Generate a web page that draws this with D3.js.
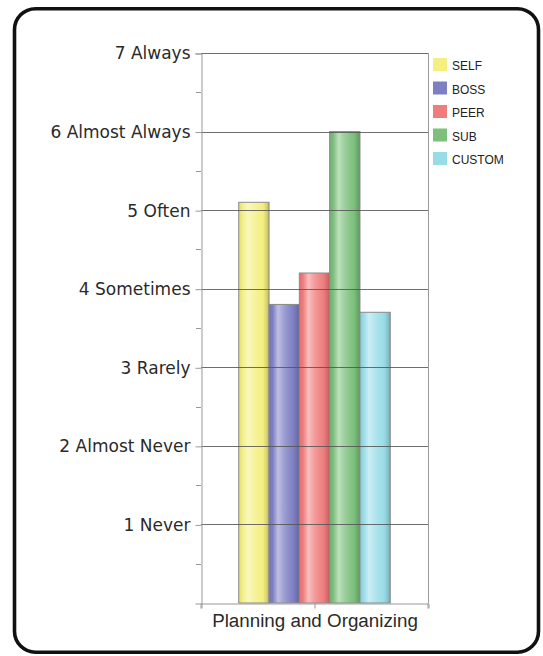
<!DOCTYPE html>
<html>
<head>
<meta charset="utf-8">
<script src="https://cdn.jsdelivr.net/npm/d3@7/dist/d3.min.js"></script>
<style>
  html, body { margin: 0; padding: 0; background: #fff; }
  svg { display: block; }
</style>
</head>
<body>
<svg id="chart" width="543" height="656"></svg>
<script>
// Rating scale labels (value -> text)
const scaleValues = [1, 2, 3, 4, 5, 6, 7];
const scaleLabels = ["1 Never", "2 Almost Never", "3 Rarely", "4 Sometimes", "5 Often", "6 Almost Always", "7 Always"];
const minorTicks = [0.5, 1.5, 2.5, 3.5, 4.5, 5.5, 6.5];

// Competency and rater groups
const categories = ["Planning and Organizing"];
const series = ["SELF", "BOSS", "PEER", "SUB", "CUSTOM"];
const seriesValues = [5.1, 3.8, 4.2, 6.0, 3.7];
const seriesColors = ["#f4ef80", "#7f7fc4", "#f07c7c", "#7cc07c", "#98dce8"];

const svg = d3.select("#chart");

// Rounded frame
svg.append("rect")
  .attr("x", 14.5).attr("y", 8.7)
  .attr("width", 524).attr("height", 643.5)
  .attr("rx", 21).attr("ry", 21)
  .attr("fill", "#fff")
  .attr("stroke", "#111")
  .attr("stroke-width", 3.6);

const plot = { left: 201, right: 428, top: 53, bottom: 603 };

const y = d3.scaleLinear().domain([0, 7]).range([plot.bottom, plot.top]);
const x0 = d3.scaleBand().domain(categories).range([plot.left, plot.right]).paddingOuter(0.249).paddingInner(0);
const x1 = d3.scaleBand().domain(series).range([0, x0.bandwidth()]);

// Cylinder-style shading for each bar colour
const defs = svg.append("defs");
series.forEach((s, i) => {
  const base = d3.color(seriesColors[i]);
  const g = defs.append("linearGradient")
    .attr("id", "grad-" + i)
    .attr("x1", "0%").attr("x2", "100%").attr("y1", "0%").attr("y2", "0%");
  const stops = [
    [0, base.darker(0.25)],
    [0.12, base],
    [0.3, d3.interpolateRgb(base, "#fff")(0.5)],
    [0.45, d3.interpolateRgb(base, "#fff")(0.3)],
    [0.6, d3.interpolateRgb(base, "#fff")(0.15)],
    [0.8, base],
    [0.92, base.darker(0.35)],
    [1, base.darker(0.75)]
  ];
  stops.forEach(([o, c]) => g.append("stop").attr("offset", o).attr("stop-color", c.toString()));
});

// Bars
const groups = svg.append("g").selectAll("g")
  .data(categories)
  .join("g")
  .attr("transform", d => `translate(${x0(d)},0)`);

groups.selectAll("rect")
  .data(() => series.map((s, i) => ({ s, i, v: seriesValues[i] })))
  .join("rect")
  .attr("x", d => x1(d.s))
  .attr("y", d => y(d.v))
  .attr("width", x1.bandwidth())
  .attr("height", d => y(0) - y(d.v))
  .attr("fill", d => `url(#grad-${d.i})`)
  .attr("stroke", "#8a8a8a")
  .attr("stroke-width", 1);

// Horizontal gridlines drawn over the bars
svg.append("g").selectAll("line")
  .data(scaleValues)
  .join("line")
  .attr("x1", plot.left).attr("x2", plot.right)
  .attr("y1", d => Math.round(y(d)) + 0.5).attr("y2", d => Math.round(y(d)) + 0.5)
  .attr("stroke", "#555")
  .attr("stroke-opacity", 0.85);

// Right border of plot
svg.append("line")
  .attr("x1", plot.right + 0.5).attr("x2", plot.right + 0.5)
  .attr("y1", plot.top).attr("y2", plot.bottom)
  .attr("stroke", "#999");

// Left axis with rating labels
const labelFor = v => scaleLabels[scaleValues.indexOf(v)] || "";
const yAxis = svg.append("g")
  .attr("transform", `translate(${plot.left + 0.5},0.5)`)
  .call(d3.axisLeft(y).tickValues(scaleValues).tickFormat(labelFor).tickSize(6).tickPadding(5));
yAxis.select(".domain").attr("stroke", "#999");
yAxis.selectAll(".tick line").attr("stroke", "#999");
yAxis.selectAll(".tick text")
  .attr("fill", "#2a2a2a")
  .style("font-family", "'DejaVu Sans', Verdana, sans-serif")
  .style("font-size", "17px");

// Minor ticks
svg.append("g").selectAll("line")
  .data(minorTicks)
  .join("line")
  .attr("x1", plot.left - 5).attr("x2", plot.left)
  .attr("y1", d => Math.round(y(d)) + 0.5).attr("y2", d => Math.round(y(d)) + 0.5)
  .attr("stroke", "#999");

// Bottom axis
const xAxisG = svg.append("g")
  .attr("transform", `translate(0.5,${plot.bottom + 0.5})`)
  .call(d3.axisBottom(x0).tickSize(5).tickPadding(5));
xAxisG.select(".domain").attr("stroke", "#999");
xAxisG.selectAll(".tick line").attr("stroke", "#999");
xAxisG.selectAll(".tick text")
  .attr("fill", "#2a2a2a")
  .style("font-family", "'Liberation Sans', Arial, sans-serif")
  .style("font-size", "18.8px");
// Group boundary ticks
xAxisG.selectAll(".edge")
  .data([plot.left, plot.right])
  .join("line")
  .attr("class", "edge")
  .attr("x1", d => d - 0.5).attr("x2", d => d - 0.5)
  .attr("y1", 0).attr("y2", 5)
  .attr("stroke", "#999");

// Legend
const legend = svg.append("g").attr("transform", "translate(433,58)");
const items = legend.selectAll("g")
  .data(series)
  .join("g")
  .attr("transform", (d, i) => `translate(0,${i * 23.5})`);
items.append("rect")
  .attr("width", 14).attr("height", 13)
  .attr("fill", (d, i) => seriesColors[i]);
items.append("text")
  .attr("x", 19).attr("y", 12)
  .attr("fill", "#222")
  .style("font-family", "'Liberation Sans', Arial, sans-serif")
  .style("font-size", "12px")
  .text(d => d);
</script>
</body>
</html>
